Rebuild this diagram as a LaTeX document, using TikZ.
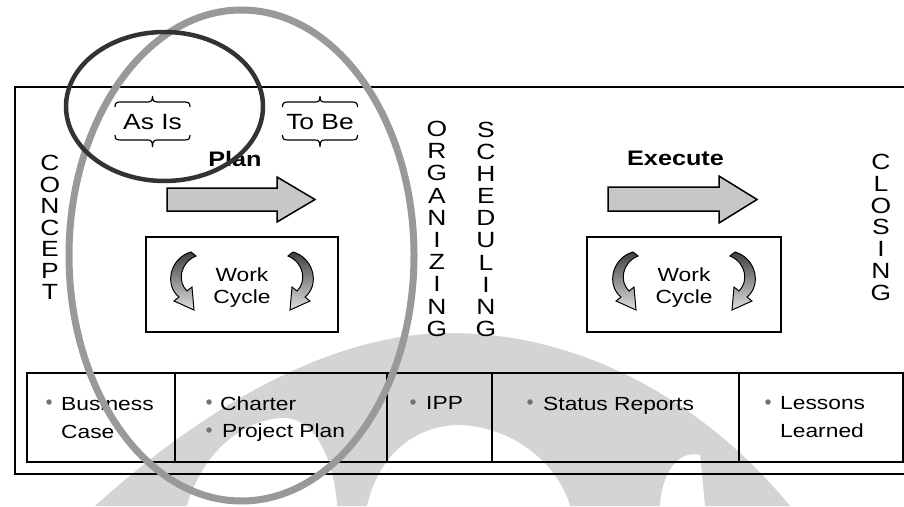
\documentclass[tikz,border=0pt]{standalone}
\usepackage{graphicx}
\usepackage{fontspec}
\setmainfont{Liberation Sans}
\newcommand\sx[1]{\scalebox{1.2}[1]{#1}}
\begin{document}
\begin{tikzpicture}[x=1pt,y=-1pt,
  frame/.style={draw=black,line width=1.8pt},
  txt/.style={inner sep=0pt,font=\fontsize{19}{22}\selectfont},
  btxt/.style={inner sep=0pt,font=\fontsize{21}{24}\selectfont\bfseries},
  vlet/.style={inner sep=0pt,font=\fontsize{22}{24}\selectfont},
  bul/.style={circle,fill=black!55,inner sep=0pt,minimum size=5.5pt},
  blockarrow/.style={draw=black,line width=1.5pt,fill=black!22},
  cyc/.style={draw=black,line width=1pt,top color=black!75,bottom color=black!12},
  wm/.style={fill=black!17},
  brace/.style={draw=black,line width=1.2pt},
  pics/wcycle/.style={code={
    \path[cyc] (-51,-32.5) .. controls (-72,-26.5) and (-78,0.5) .. (-63,12.5)
      -- (-68,16.5) -- (-48,25.5) -- (-50,2.5) -- (-55,6.5)
      .. controls (-65,-3) and (-62,-22) .. (-46,-28.5) -- cycle;
  }},
  pics/bracetop/.style={code={
    \draw[brace] (-37.5,107) .. controls (-37.5,103) and (-36,102) .. (-32,102)
      -- (-5,102) .. controls (-1.5,102) and (0,101) .. (0,96)
      .. controls (0,101) and (1.5,102) .. (5,102) -- (32,102)
      .. controls (36,102) and (37.5,103) .. (37.5,107);
  }},
  pics/bracebot/.style={code={
    \draw[brace] (-37.5,135) .. controls (-37.5,139) and (-36,140) .. (-32,140)
      -- (-5,140) .. controls (-1.5,140) and (0,141) .. (0,147)
      .. controls (0,141) and (1.5,140) .. (5,140) -- (32,140)
      .. controls (36,140) and (37.5,139) .. (37.5,135);
  }}]
\useasboundingbox (0,0) rectangle (904,506);

% watermark in the background
\fill[wm] (95,506) .. controls (190,420) and (320,333) .. (450,333)
  .. controls (600,333) and (720,420) .. (790,506) -- cycle;
\fill[white] (187,506) .. controls (205,445) and (250,418) .. (285,418)
  .. controls (320,420) and (335,470) .. (337,506) -- cycle;
\fill[white] (367,506) .. controls (380,450) and (420,425) .. (460,425)
  .. controls (520,428) and (560,470) .. (570,506) -- cycle;
\fill[white] (660,506) .. controls (662,470) and (680,450) .. (700,455)
  -- (705,506) -- cycle;

% outer frame
\draw[frame] (910,87) -- (15,87) -- (15,474) -- (910,474);

% deliverables table
\draw[frame] (27,373) rectangle (903,462);
\foreach \xd in {175,387,492,739} \draw[frame] (\xd,373) -- (\xd,462);

% phase letters
\foreach \l [count=\i] in {C,O,N,C,E,P,T}
  \node[vlet] (concept\i) at (50,{163+21.5*(\i-1)}) {\sx{\l}};
\foreach \l [count=\i] in {O,R,G,A,N,I,Z,I,N,G}
  \node[vlet] (org\i) at (437,{129+22.2*(\i-1)}) {\sx{\l}};
\foreach \l [count=\i] in {S,C,H,E,D,U,L,I,N,G}
  \node[vlet] (sched\i) at (486,{130+22.1*(\i-1)}) {\sx{\l}};
\foreach \l [count=\i] in {C,L,O,S,I,N,G}
  \node[vlet] (close\i) at (881,{162+21.8*(\i-1)}) {\sx{\l}};

% As Is / To Be
\pic at (152.5,0) {bracetop};
\pic at (152.5,0) {bracebot};
\pic at (320,0) {bracetop};
\pic at (320,0) {bracebot};
\node[inner sep=0pt,font=\fontsize{22}{24}\selectfont,anchor=base] (asis) at (152.5,129) {\sx{As Is}};
\node[inner sep=0pt,font=\fontsize{22}{24}\selectfont,anchor=base] (tobe) at (320,129) {\sx{To Be}};

% Plan and Execute
\node[btxt,anchor=base] (plan) at (235,166) {\sx{Plan}};
\node[btxt,anchor=base] (execute) at (675.5,165) {\sx{Execute}};
\path[blockarrow] (167,188) -- (277,188) -- (277,177) -- (315,199.5)
  -- (277,222) -- (277,211) -- (167,211) -- cycle;
\path[blockarrow] (608,187) -- (719,187) -- (719,176) -- (757,199.5)
  -- (719,223) -- (719,211) -- (608,211) -- cycle;

% work cycle boxes
\draw[frame] (146,237) rectangle (338,332);
\draw[frame] (587,237) rectangle (781,332);
\pic at (242,284.5) {wcycle};
\pic[xscale=-1] at (242,284.5) {wcycle};
\pic at (684,284.5) {wcycle};
\pic[xscale=-1] at (684,284.5) {wcycle};
\node[txt,anchor=base] (work1) at (242,281) {\sx{Work}};
\node[txt,anchor=base] (cycle1) at (242,303) {\sx{Cycle}};
\node[txt,anchor=base] (work2) at (684,281) {\sx{Work}};
\node[txt,anchor=base] (cycle2) at (684,303) {\sx{Cycle}};

% table entries
\node[bul] (b1) at (49,402) {};
\node[txt,anchor=base west] (business) at (61,410) {\sx{Business}};
\node[txt,anchor=base west] (case) at (61,438) {\sx{Case}};
\node[bul] (b2) at (209,402) {};
\node[txt,anchor=base west] (charter) at (220,410) {\sx{Charter}};
\node[bul] (b3) at (209,430) {};
\node[txt,anchor=base west] (pplan) at (222,437) {\sx{Project Plan}};
\node[bul] (b4) at (413,402) {};
\node[txt,anchor=base west] (ipp) at (426,409) {\sx{IPP}};
\node[bul] (b5) at (530,402) {};
\node[txt,anchor=base west] (status) at (543,410) {\sx{Status Reports}};
\node[bul] (b6) at (768,402) {};
\node[txt,anchor=base west] (lessons) at (780,409) {\sx{Lessons}};
\node[txt,anchor=base west] (learned) at (780,437) {\sx{Learned}};

% highlight rings
\draw[black!40,line width=7pt] (241.5,255.5) ellipse [x radius=172.5pt,y radius=245.5pt];
\draw[black!80,line width=4.5pt] (164.5,106.5) ellipse [x radius=98.5pt,y radius=74.5pt];
\end{tikzpicture}
\end{document}
